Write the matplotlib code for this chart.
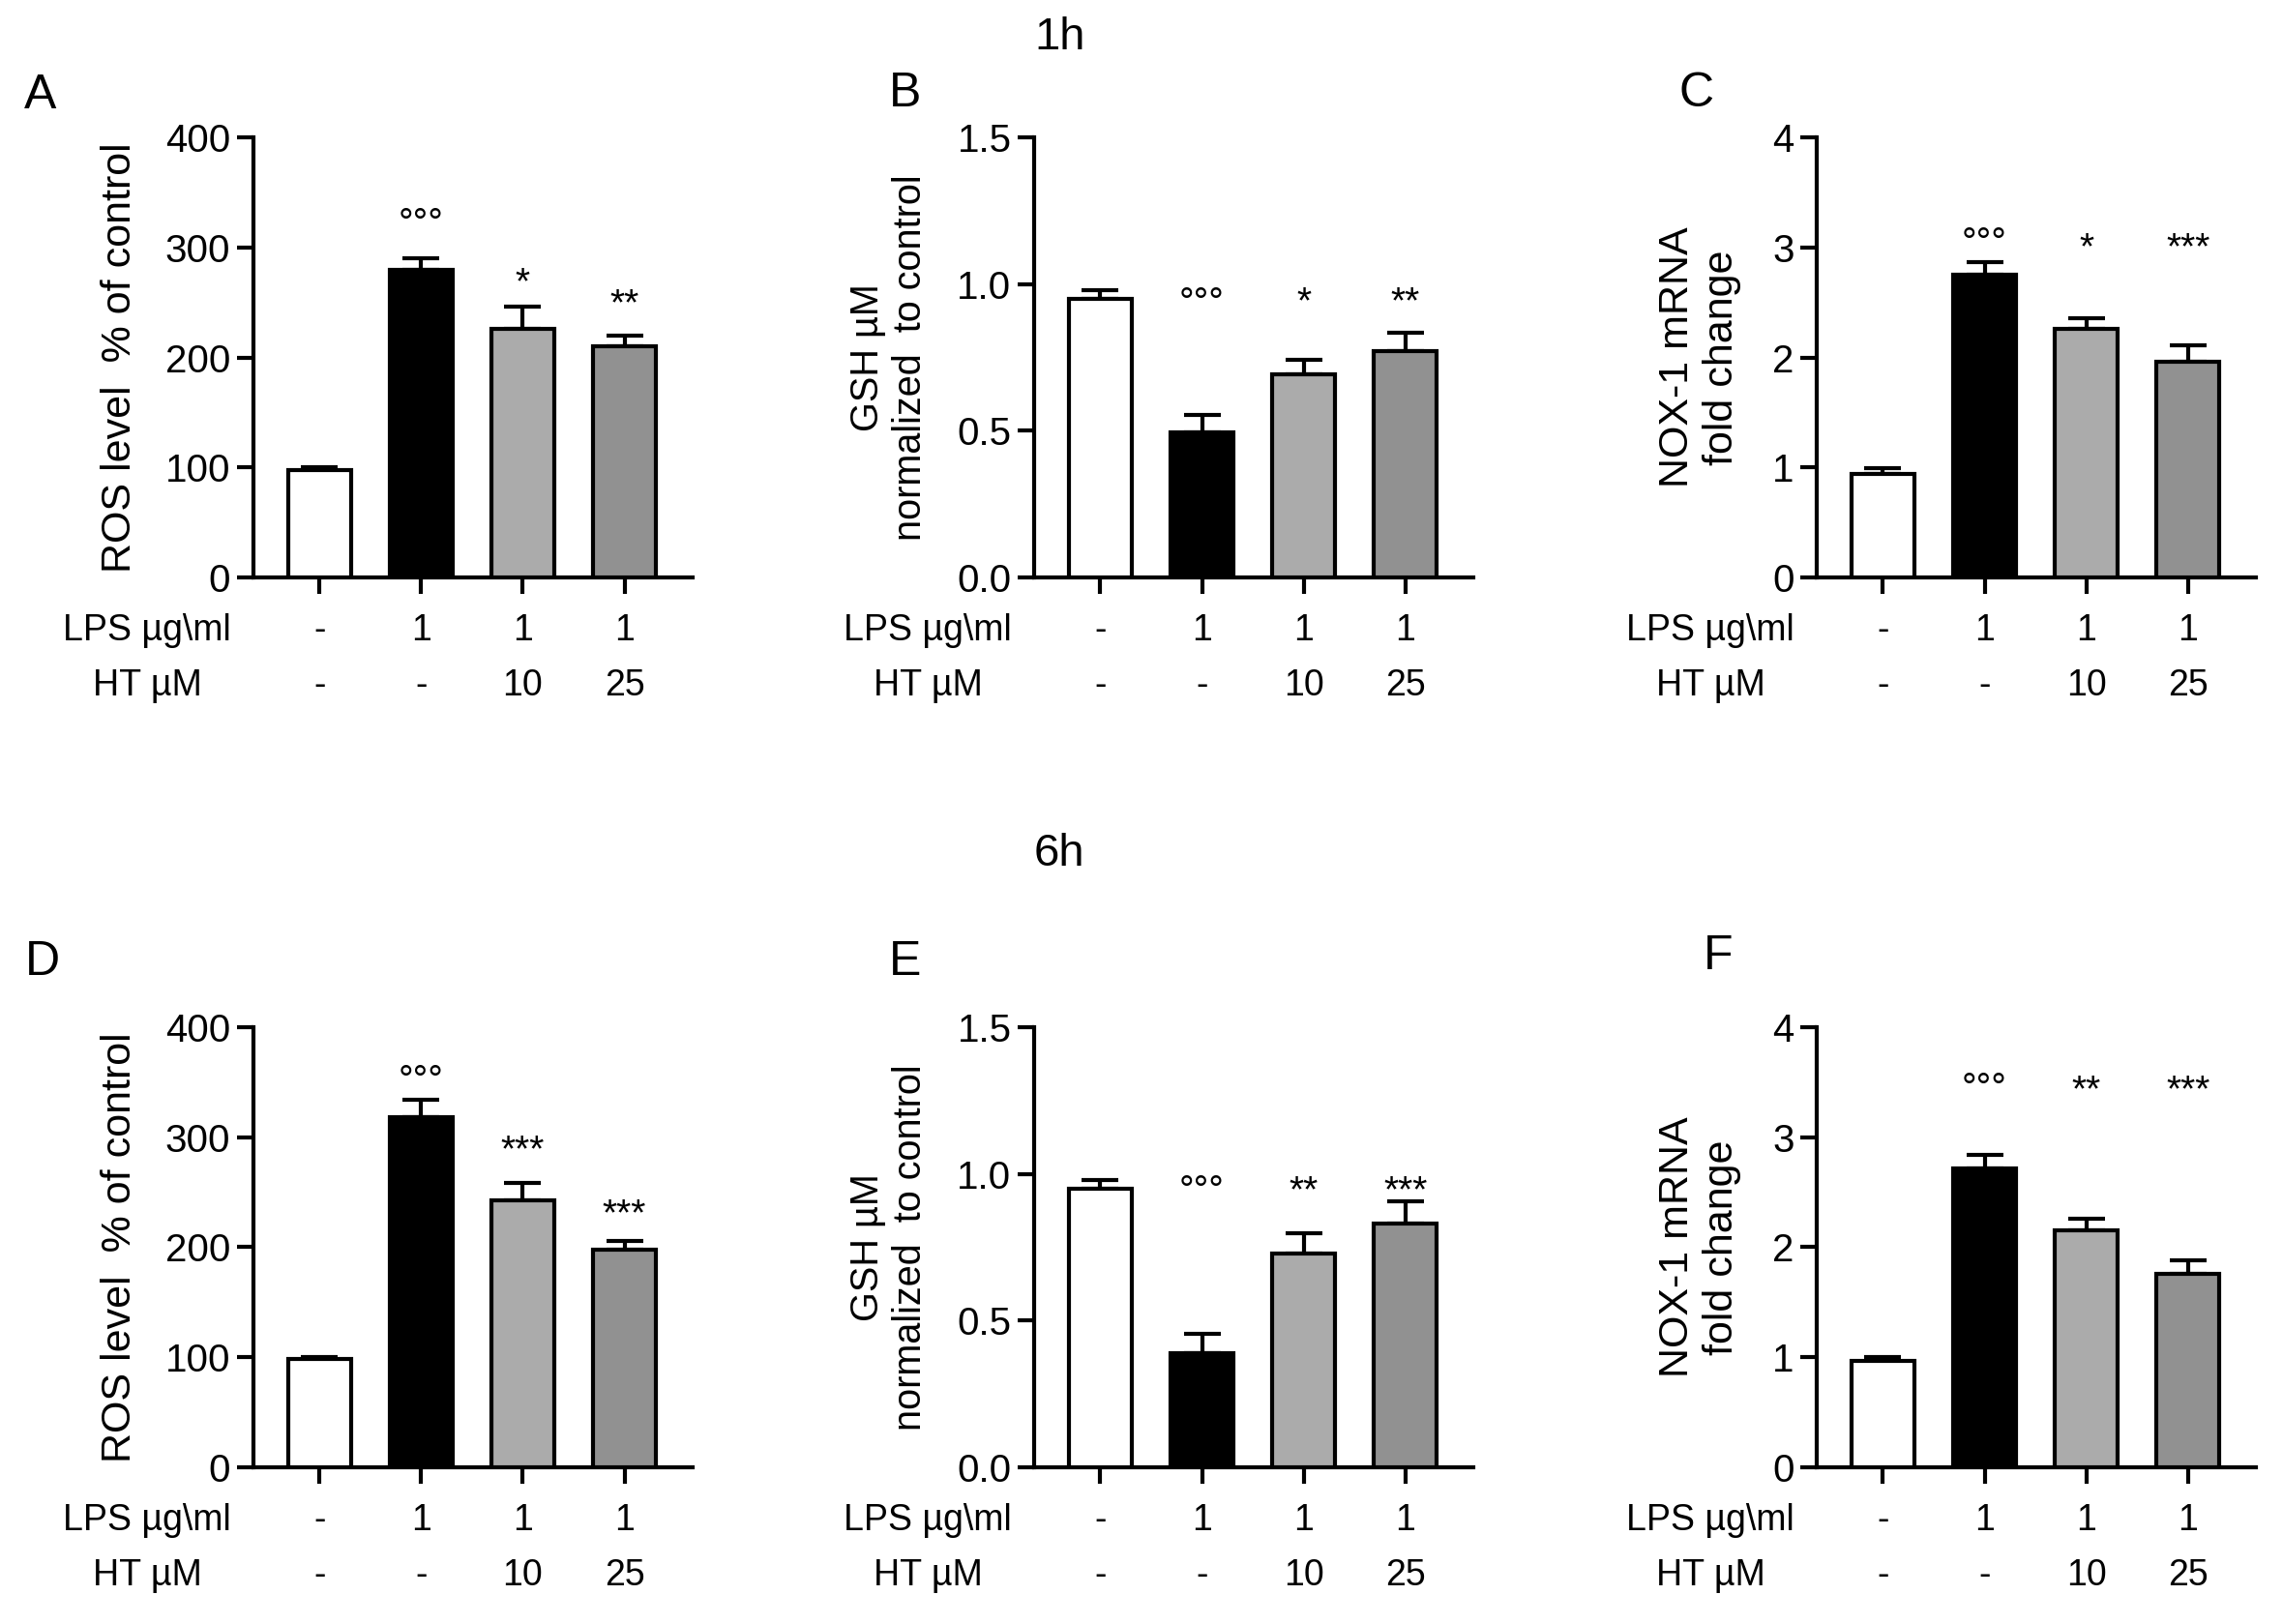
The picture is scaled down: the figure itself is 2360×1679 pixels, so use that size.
import matplotlib
matplotlib.use('Agg')
import matplotlib.pyplot as plt
from matplotlib.transforms import blended_transform_factory

plt.rcParams['font.family'] = ['Liberation Sans', 'DejaVu Sans']

# ---------------- data ----------------
lps_labels = ['-', '1', '1', '1']
ht_labels = ['-', '-', '10', '25']
bar_colors = ['#ffffff', '#000000', '#ababab', '#919191']

ros_1h = [98, 280, 226, 210]
ros_1h_err = [2, 10, 20, 10]
ros_1h_sig = ['°°°', '*', '**']
ros_1h_sig_y = [332, 278, 259]

gsh_1h = [0.95, 0.495, 0.692, 0.771]
gsh_1h_err = [0.03, 0.059, 0.05, 0.063]
gsh_1h_sig = ['°°°', '*', '**']
gsh_1h_sig_y = [0.976, 0.976, 0.976]

nox_1h = [0.94, 2.75, 2.26, 1.96]
nox_1h_err = [0.05, 0.12, 0.10, 0.15]
nox_1h_sig = ['°°°', '*', '***']
nox_1h_sig_y = [3.14, 3.10, 3.10]

ros_6h = [98, 318, 243, 198]
ros_6h_err = [2.5, 16, 15, 8]
ros_6h_sig = ['°°°', '***', '***']
ros_6h_sig_y = [362, 298, 240]

gsh_6h = [0.95, 0.39, 0.73, 0.83]
gsh_6h_err = [0.03, 0.065, 0.067, 0.078]
gsh_6h_sig = ['°°°', '**', '***']
gsh_6h_sig_y = [0.98, 0.98, 0.98]

nox_6h = [0.97, 2.72, 2.15, 1.76]
nox_6h_err = [0.03, 0.12, 0.11, 0.12]
nox_6h_sig = ['°°°', '**', '***']
nox_6h_sig_y = [3.55, 3.53, 3.53]

ros_ticks = [0, 100, 200, 300, 400]
gsh_ticks = [0.0, 0.5, 1.0, 1.5]
nox_ticks = [0, 1, 2, 3, 4]

ros_label = 'ROS level  % of control'
gsh_label = 'GSH µM\nnormalized  to control'
nox_label = 'NOX-1 mRNA\nfold change'

# ---------------- layout ----------------
W, H = 2360, 1679
fig = plt.figure(figsize=(W / 100, H / 100), dpi=100)

lefts = [0.111, 0.453, 0.7958]
bottoms = [0.6444, 0.0965]
aw, ah = 0.1924, 0.271

LW = 3.0
FS_TICK = 29
FS_CAT = 27
FS_SIG = 28
FS_LETTER = 36
FS_TIME = 34

panels = [
    (0, 0, 'A', ros_1h, ros_1h_err, ros_1h_sig, ros_1h_sig_y, ros_ticks, '{:.0f}', ros_label, -0.304, 31),
    (0, 1, 'B', gsh_1h, gsh_1h_err, gsh_1h_sig, gsh_1h_sig_y, gsh_ticks, '{:.1f}', gsh_label, -0.33, 28.5),
    (0, 2, 'C', nox_1h, nox_1h_err, nox_1h_sig, nox_1h_sig_y, nox_ticks, '{:.0f}', nox_label, -0.267, 31),
    (1, 0, 'D', ros_6h, ros_6h_err, ros_6h_sig, ros_6h_sig_y, ros_ticks, '{:.0f}', ros_label, -0.304, 31),
    (1, 1, 'E', gsh_6h, gsh_6h_err, gsh_6h_sig, gsh_6h_sig_y, gsh_ticks, '{:.1f}', gsh_label, -0.33, 28.5),
    (1, 2, 'F', nox_6h, nox_6h_err, nox_6h_sig, nox_6h_sig_y, nox_ticks, '{:.0f}', nox_label, -0.267, 31),
]

letter_pos = {'A': (42, 99), 'B': (936, 97), 'C': (1754, 97),
              'D': (44, 995), 'E': (936, 995), 'F': (1776, 989)}

for row, col, letter, vals, errs, sig, sig_y, ticks, fmt, label, lx, lfs in panels:
    ax = fig.add_axes([lefts[col], bottoms[row], aw, ah])
    x = list(range(len(vals)))
    ax.bar(x, vals, width=0.62, color=bar_colors, edgecolor='black',
           linewidth=LW, zorder=3)
    ax.errorbar(x, vals, yerr=[[0] * len(vals), errs], fmt='none',
                ecolor='black', elinewidth=LW, capsize=13.4, capthick=LW, zorder=2)
    ax.set_xlim(-0.65, 3.67)
    ax.set_ylim(ticks[0], ticks[-1])
    ax.set_yticks(ticks)
    ax.set_yticklabels([fmt.format(t) for t in ticks])
    ax.set_xticks(x)
    ax.set_xticklabels([])
    for s in ['top', 'right']:
        ax.spines[s].set_visible(False)
    for s in ['left', 'bottom']:
        ax.spines[s].set_linewidth(LW)
    ax.tick_params(axis='both', width=LW, length=12, labelsize=FS_TICK, pad=5)
    ax.text(lx, 0.5, label, transform=ax.transAxes, rotation=90,
            ha='center', va='center', multialignment='center', fontsize=lfs)
    trans = blended_transform_factory(ax.transData, ax.transAxes)
    for i in x:
        ax.text(i, -0.143, lps_labels[i], transform=trans, ha='center',
                va='baseline', fontsize=FS_CAT, clip_on=False)
        ax.text(i, -0.268, ht_labels[i], transform=trans, ha='center',
                va='baseline', fontsize=FS_CAT, clip_on=False)
    ax.text(-0.242, -0.143, 'LPS µg\\ml', transform=ax.transAxes, ha='center',
            va='baseline', fontsize=FS_CAT)
    ax.text(-0.242, -0.268, 'HT µM', transform=ax.transAxes, ha='center',
            va='baseline', fontsize=FS_CAT)
    for j, (s, yv) in enumerate(zip(sig, sig_y)):
        ax.annotate(s, xy=(j + 1, yv), xytext=(0, -0.58 * FS_SIG),
                    textcoords='offset points', ha='center', va='baseline',
                    fontsize=FS_SIG)
    px, py = letter_pos[letter]
    fig.text(px / W, 1 - py / H, letter, ha='center', va='center',
             fontsize=FS_LETTER)

fig.text(1096 / W, 1 - 39 / H, '1h', ha='center', va='center', fontsize=FS_TIME)
fig.text(1095 / W, 1 - 883 / H, '6h', ha='center', va='center', fontsize=FS_TIME)

fig.savefig('out.png', dpi=100, facecolor='white')
